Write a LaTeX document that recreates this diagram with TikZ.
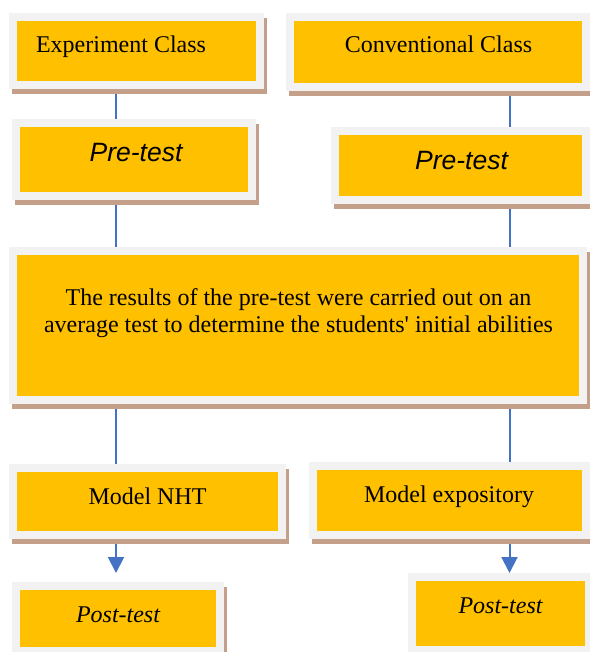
\documentclass[tikz,border=0pt]{standalone}
\usepackage{fontspec}
\setmainfont{Liberation Serif}
\newfontfamily\arialfont{Liberation Sans}
\usetikzlibrary{arrows.meta,backgrounds}
\definecolor{boxfill}{HTML}{FFC000}
\definecolor{boxrim}{HTML}{F2F2F2}
\definecolor{boxshade}{HTML}{C4A08B}
\definecolor{linkc}{HTML}{4472C4}
\begin{document}
\begin{tikzpicture}[x=1pt,y=-1pt,
  panel/.style={fill=boxfill, draw=boxrim, line width=8pt, inner sep=0pt},
  link/.style={draw=linkc, line width=2pt},
  tip/.style={link, -{Triangle[width=16pt,length=16pt]}},
  tx/.style={font=\fontsize{24}{27}\selectfont, inner sep=0pt, align=center, anchor=base},
  sanstx/.style={font=\arialfont\itshape\fontsize{26.5}{30}\selectfont, inner sep=0pt, anchor=base},
  shade/.style={fill=boxshade},
]
\useasboundingbox (0,0) rectangle (589,652);

% boxes
\node[panel, minimum width=247pt, minimum height=68pt] (expc) at (136.5,51) {};
\node[panel, minimum width=296pt, minimum height=70pt] (conc) at (438,52) {};
\node[panel, minimum width=236pt, minimum height=73pt] (pre1) at (134,159.5) {};
\node[panel, minimum width=251pt, minimum height=69pt] (pre2) at (460.5,165.5) {};
\node[panel, minimum width=570pt, minimum height=149pt] (big) at (298,325.5) {};
\node[panel, minimum width=269pt, minimum height=67pt] (nht) at (147.5,501.5) {};
\node[panel, minimum width=273pt, minimum height=69pt] (expo) at (449.5,500.5) {};
\node[panel, minimum width=204pt, minimum height=65pt] (post1) at (118,618.5) {};
\node[panel, minimum width=177pt, minimum height=73pt] (post2) at (500.5,613.5) {};

% texts
\node[tx] (t1) at (121,53) {Experiment Class};
\node[tx] (t2) at (438.5,53) {Conventional Class};
\node[sanstx] (t3) at (136,162) {Pre-test};
\node[sanstx] (t4) at (461.5,170) {Pre-test};
\node[tx] (t5) at (298.5,332) {The results of the pre-test were carried out on an\\average test to determine the students\textquotesingle{} initial abilities};
\node[tx] (t6) at (147.5,504) {Model NHT};
\node[tx] (t7) at (449,502) {Model expository};
\node[tx, font=\itshape\fontsize{24}{27}\selectfont] (t8) at (118,622) {Post-test};
\node[tx, font=\itshape\fontsize{24}{27}\selectfont] (t9) at (500.5,613) {Post-test};

\coordinate (lx) at (116,0);
\coordinate (rx) at (509.5,0);

\begin{scope}[on background layer]
  \draw[link] (expc.south -| lx) -- (pre1.north -| lx);
  \draw[link] (pre1.south -| lx) -- (big.north -| lx);
  \draw[link] (big.south -| lx) -- (nht.north -| lx);
  \draw[tip, shorten >=9pt] (nht.south -| lx) -- (post1.north -| lx);
  \draw[link] (conc.south -| rx) -- (pre2.north -| rx);
  \draw[link] (pre2.south -| rx) -- (big.north -| rx);
  \draw[link] (big.south -| rx) -- (expo.north -| rx);
  \draw[tip] (expo.south -| rx) -- (post2.north -| rx);
  \foreach \b in {expc,conc,pre1,pre2,big,nht,expo,post1,post2}
    \fill[shade] ([shift={(3,5)}]\b.north west) rectangle ([shift={(3,5)}]\b.south east);
\end{scope}
\end{tikzpicture}
\end{document}
